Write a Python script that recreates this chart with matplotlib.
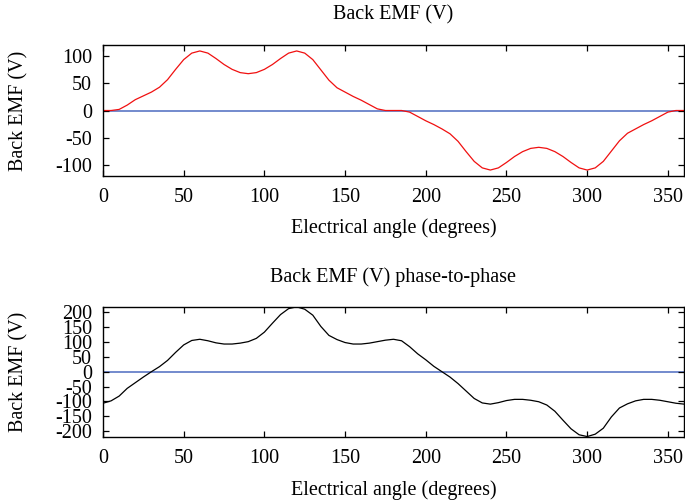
import matplotlib

matplotlib.use("Agg")
import matplotlib.pyplot as plt

# electrical angle (degrees), sampled every 5 degrees
angle = [0, 5, 10, 15, 20, 25, 30, 35, 40, 45, 50, 55, 60, 65, 70, 75, 80, 85,
         90, 95, 100, 105, 110, 115, 120, 125, 130, 135, 140, 145, 150, 155, 160, 165,
         170, 175, 180, 185, 190, 195, 200, 205, 210, 215, 220, 225, 230, 235, 240, 245,
         250, 255, 260, 265, 270, 275, 280, 285, 290, 295, 300, 305, 310, 315, 320, 325,
         330, 335, 340, 345, 350, 355, 360]

# phase back EMF (V)
emf_phase = [0, 0, 2, 10, 20, 27, 34, 43, 57, 76, 94, 106, 110, 106, 96, 85, 76, 70,
             68, 70, 76, 85, 96, 106, 110, 106, 94, 75, 56, 42, 34, 26, 19, 11,
             3, 0, 0, 0, -3, -11, -19, -26, -34, -43, -57, -76, -94, -106, -110, -106,
             -96, -85, -76, -70, -68, -70, -76, -85, -96, -106, -110, -106, -94, -75, -56, -42,
             -34, -26, -19, -11, -3, 0, 0]

# phase-to-phase back EMF (V)
emf_line = [-106, -98, -82, -56, -37, -18, 0, 17, 38, 65, 90, 105, 109, 104, 97, 93, 93, 96,
            101, 112, 133, 163, 192, 212, 218, 210, 190, 152, 122, 108, 98, 93, 93, 96,
            101, 106, 109, 104, 84, 60, 40, 18, 0, -18, -40, -65, -90, -105, -109, -104,
            -97, -93, -93, -96, -101, -112, -133, -163, -192, -212, -218, -210, -190, -152, -122, -108,
            -98, -93, -93, -96, -101, -106, -109]

top_ticks = [-100, -50, 0, 50, 100]
bottom_ticks = [-200, -150, -100, -50, 0, 50, 100, 150, 200]
x_ticks = [0, 50, 100, 150, 200, 250, 300, 350]

plt.rcParams["font.family"] = ["Liberation Serif", "DejaVu Serif"]
plt.rcParams["font.size"] = 14.5
plt.rcParams["axes.unicode_minus"] = False  # plain hyphen like the original

W, H = 685, 501
fig = plt.figure(figsize=(W / 100, H / 100), dpi=100)

ZERO_COLOR = "#4d6bc0"


def _panel(rect, y, color, ylim, yticks, title, xlabel_y):
    ax = fig.add_axes(rect)
    ax.axhline(0, color=ZERO_COLOR, lw=1.1, zorder=1)
    ax.plot(angle, y, color=color, lw=0.9, zorder=2)
    ax.set_xlim(0, 360)
    ax.set_ylim(*ylim)
    ax.set_xticks(x_ticks)
    ax.set_yticks(yticks)
    ax.tick_params(direction="in", top=True, right=True, length=4.5, width=0.9,
                   labelsize=14.5)
    ax.tick_params(axis="x", pad=9)
    ax.tick_params(axis="y", pad=8)
    for s in ax.spines.values():
        s.set_linewidth(1.0)
    ax.set_ylabel("Back EMF (V)")
    ax.yaxis.set_label_coords(-0.129, 0.5)
    ax.set_xlabel("Electrical angle (degrees)")
    ax.xaxis.set_label_coords(0.5, xlabel_y)
    ax.text(0.5, 1.23, title, transform=ax.transAxes, ha="center", va="center")
    return ax


_panel([103 / W, 1 - 176 / H, 581 / W, 131 / H], emf_phase, "#f01010",
       (-121, 121), top_ticks, "Back EMF (V)", -0.32)
_panel([103 / W, 1 - 436.7 / H, 581 / W, 130 / H], emf_line, "black",
       (-218.5, 218.5), bottom_ticks, "Back EMF (V) phase-to-phase", -0.335)

fig.savefig("out.png", dpi=100)
